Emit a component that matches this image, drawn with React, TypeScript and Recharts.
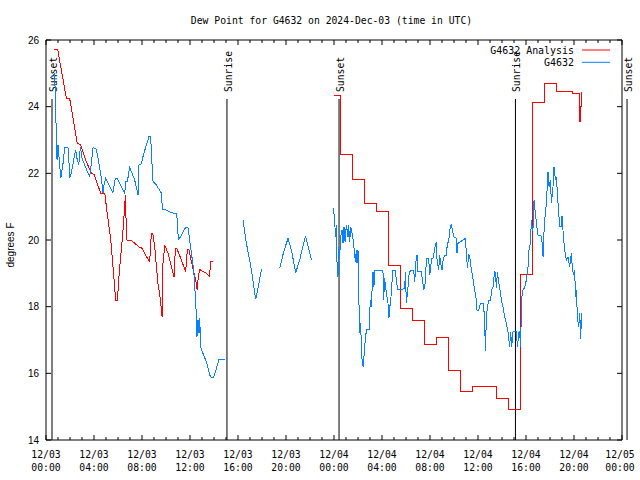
import { LineChart, Line, XAxis, YAxis, ReferenceLine } from 'recharts';

const MONO = '"DejaVu Sans Mono", monospace';
const SANS = '"Liberation Sans", Arial, sans-serif';
const RED = '#ff0000';
const BLUE = '#0a80ff';

// hours since 2024-12-03 00:00 UTC
const hourTicks = Array.from({ length: 49 }, (_, i) => i);
const tempTicks = [14, 16, 18, 20, 22, 24, 26];

const sunHours = [0.5, 15.08, 24.42, 39.12, 48.42];
const sunLabels = ['Sunset', 'Sunrise', 'Sunset', 'Sunrise', 'Sunset'];

// G4632 Analysis, day 1 (smooth part)
const analysisDay1: [number, number][] = [
  [0.64, 25.72], [0.97, 25.72], [1.08, 25.5], [1.7, 24.25], [1.97, 24.25], [2.6, 22.9],
  [2.9, 22.85], [3.3, 22.4], [3.78, 22.0], [4.0, 21.97], [4.56, 21.4], [4.9, 21.4],
  [5.1, 20.8], [5.4, 20.0], [5.72, 18.6], [5.8, 18.2], [5.95, 18.2], [6.1, 19.0],
  [6.4, 20.2], [6.62, 21.35], [6.7, 20.2], [6.75, 20.0], [7.06, 20.0], [7.4, 19.9],
  [7.8, 19.78], [8.03, 19.75], [8.2, 19.6], [8.64, 19.35], [8.78, 20.2], [8.9, 20.2],
  [9.06, 19.8], [9.2, 19.2], [9.33, 18.7], [9.47, 18.4], [9.62, 17.9], [9.67, 17.7],
  [9.75, 19.3], [9.9, 19.84], [10.17, 19.6], [10.45, 19.2], [10.67, 18.9], [10.78, 19.75],
  [10.9, 19.75], [11.28, 19.4], [11.64, 19.05], [11.78, 19.72], [11.9, 19.72], [12.03, 19.5],
  [12.33, 19.0], [12.47, 18.8], [12.6, 18.5], [12.67, 18.8], [12.8, 19.12], [13.08, 19.05],
  [13.36, 19.0], [13.64, 18.9], [13.7, 19.35], [13.92, 19.35],
];

// G4632 Analysis, day 2 (hourly steps)
const analysisDay2: [number, number][] = [
  [24.0, 24.35], [24.5, 23.45], [24.55, 22.58], [25.5, 22.2], [25.55, 21.83], [26.5, 21.1],
  [27.5, 21.0], [27.55, 20.87], [28.5, 20.1], [28.55, 19.25], [29.5, 17.95], [30.5, 17.6],
  [31.5, 17.25], [31.55, 16.88], [32.5, 17.08], [33.5, 16.58], [33.55, 16.08], [34.5, 15.45],
  [35.5, 15.62], [37.5, 15.25], [38.5, 14.92], [39.5, 17.45], [39.55, 18.98], [40.5, 24.13],
  [41.5, 24.7], [42.5, 24.47], [43.9, 24.4], [44.45, 23.55], [44.5, 24.0], [44.6, 24.45],
];

// G4632 station obs, in pieces (gaps between)
const stationSeg1: [number, number][] = [
  [0.3, 24.85], [0.73, 25.0], [0.78, 24.1], [0.87, 23.1], [0.92, 22.4], [1.0, 22.85],
  [1.05, 22.65], [1.23, 21.85], [1.42, 22.3], [1.56, 22.78], [1.83, 22.78], [1.92, 22.3],
  [1.97, 21.85], [2.1, 22.0], [2.39, 22.55], [2.47, 22.7], [2.58, 22.45], [2.73, 22.25],
  [2.87, 22.8], [3.0, 22.45], [3.22, 22.25], [3.5, 22.0], [3.64, 21.9], [3.78, 22.32],
  [3.92, 22.78], [4.2, 22.72], [4.39, 22.35], [4.62, 21.85], [4.75, 21.4], [4.8, 21.6],
  [4.98, 21.85], [5.17, 21.7], [5.58, 21.42], [5.78, 21.85], [5.95, 21.85], [6.28, 21.6],
  [6.56, 21.4], [6.64, 21.75], [6.78, 21.75], [6.97, 22.18], [7.39, 21.8], [7.67, 21.35],
  [7.75, 22.25], [7.95, 22.28], [8.08, 22.5], [8.36, 22.85], [8.58, 23.1], [8.72, 23.1],
  [8.83, 22.3], [8.92, 21.75], [9.2, 21.65], [9.62, 21.4], [9.7, 20.92], [10.03, 20.9],
  [10.45, 20.82], [10.9, 20.78], [10.99, 20.2], [11.08, 20.02], [11.36, 20.2], [11.64, 20.38],
  [11.83, 20.38], [11.97, 20.0], [12.12, 19.6], [12.31, 19.1], [12.45, 18.3], [12.53, 17.7],
  [12.58, 17.1], [12.67, 17.6], [12.75, 17.2], [12.81, 17.65], [12.89, 16.8], [13.08, 16.6],
  [13.36, 16.35], [13.64, 15.95], [13.78, 15.88], [13.97, 15.88], [14.2, 16.15], [14.42, 16.42],
  [14.89, 16.42],
];
const stationSeg2: [number, number][] = [
  [16.42, 20.6], [16.7, 19.9], [17.12, 19.1], [17.47, 18.22], [17.75, 18.7], [17.95, 19.12],
];
const stationSeg3: [number, number][] = [
  [19.47, 19.15], [19.81, 19.65], [20.17, 20.05], [20.45, 19.7], [20.81, 19.02], [21.14, 19.4],
  [21.62, 20.12], [21.92, 19.7], [22.12, 19.4],
];
const stationSeg4: [number, number][] = [
  [23.97, 20.95], [24.06, 20.5], [24.14, 20.1], [24.2, 20.45], [24.25, 19.35], [24.33, 18.9],
  [24.39, 19.8], [24.47, 19.5], [24.56, 20.1], [24.67, 20.3], [24.75, 19.9], [24.83, 20.4],
  [24.92, 19.95], [25.03, 20.45], [25.17, 20.1], [25.22, 20.45], [25.31, 19.95], [25.39, 20.4],
  [25.5, 20.2], [25.58, 20.05], [25.72, 19.6], [25.78, 19.35], [25.86, 19.7], [25.92, 19.3],
  [26.0, 19.7], [26.06, 18.4], [26.14, 17.2], [26.22, 17.5], [26.28, 16.8], [26.33, 16.45],
  [26.42, 16.2], [26.5, 16.5], [26.56, 16.8], [26.64, 17.15], [26.75, 17.32], [26.92, 17.32],
  [26.98, 17.9], [27.06, 18.2], [27.12, 18.0], [27.17, 18.5], [27.25, 19.05], [27.33, 18.6],
  [27.39, 19.08], [28.08, 19.08], [28.14, 18.2], [28.22, 18.85], [28.37, 18.4], [28.5, 18.1],
  [28.58, 17.65], [28.64, 18.0], [28.72, 18.1], [28.78, 18.5], [28.92, 19.1], [29.12, 19.08],
  [29.2, 18.75], [29.33, 18.5], [29.89, 18.54], [29.95, 19.05], [30.03, 18.1], [30.17, 18.6],
  [30.25, 18.95], [30.37, 19.1], [30.64, 19.1], [30.73, 18.75], [30.81, 19.3], [30.92, 19.55],
  [31.0, 19.05], [31.28, 19.05], [31.48, 18.52], [31.56, 18.55], [31.64, 18.98], [31.7, 19.45],
  [31.89, 19.45], [31.98, 18.95], [32.06, 19.2], [32.14, 19.45], [32.25, 19.45], [32.45, 19.85],
  [32.53, 19.95], [32.58, 19.45], [32.72, 19.1], [32.81, 19.55], [32.89, 19.3], [33.0, 19.1],
  [33.08, 19.35], [33.22, 19.55], [33.36, 19.55], [33.45, 19.9], [33.56, 19.95], [33.64, 20.3],
  [33.78, 20.48], [33.87, 20.3], [33.98, 20.1], [34.2, 20.05], [34.25, 19.6], [34.33, 19.9],
  [34.95, 20.05], [35.03, 19.6], [35.12, 19.15], [35.22, 19.55], [35.31, 19.5], [35.45, 19.1],
  [35.58, 18.85], [35.72, 18.5], [35.87, 18.2], [35.92, 17.9], [36.06, 17.9], [36.2, 18.1],
  [36.47, 18.1], [36.56, 17.4], [36.62, 16.68], [36.7, 17.7], [36.78, 17.95], [36.89, 18.2],
  [37.06, 18.2], [37.12, 18.5], [37.25, 18.58], [37.39, 19.08], [37.48, 18.9], [37.53, 18.55],
  [37.62, 19.05], [37.7, 18.8], [37.81, 18.55], [37.95, 18.2], [38.08, 18.0], [38.22, 17.72],
  [38.36, 17.5], [38.5, 17.25], [38.64, 16.8], [38.72, 17.25], [38.81, 16.8], [38.92, 17.25],
  [39.2, 17.25], [39.28, 16.8], [39.42, 17.25], [39.48, 17.25], [39.53, 16.8], [39.62, 17.8],
  [39.67, 18.35], [39.75, 18.5], [39.89, 18.58], [40.03, 18.8], [40.17, 19.2], [40.25, 19.7],
  [40.37, 19.9], [40.45, 20.6], [40.53, 20.3], [40.58, 20.3], [40.67, 21.2], [40.78, 20.8],
  [40.87, 20.5], [41.0, 20.15], [41.22, 20.15], [41.31, 20.05], [41.42, 19.5], [41.48, 20.1],
  [41.56, 20.6], [41.7, 21.1], [41.78, 21.7], [41.83, 22.05], [41.92, 21.6], [42.03, 21.8],
  [42.12, 21.1], [42.25, 21.6], [42.33, 22.2], [42.45, 21.8], [42.53, 21.9], [42.67, 21.1],
  [42.81, 20.4], [42.95, 20.4], [43.0, 20.72], [43.12, 20.1], [43.22, 19.7], [43.36, 19.4],
  [43.5, 19.5], [43.64, 19.2], [43.78, 19.62], [43.87, 19.1], [43.98, 18.95], [44.06, 19.1],
  [44.12, 18.3], [44.2, 18.5], [44.28, 17.7], [44.39, 17.4], [44.48, 17.8], [44.56, 17.02],
  [44.62, 17.8],
];

type Row = { h: number; v: number | null };

const toRows = (pts: [number, number][]): Row[] => pts.map(([h, v]) => ({ h, v }));

// put a null between pieces so the line breaks
function joinSegments(segs: [number, number][][]): Row[] {
  const out: Row[] = [];
  segs.forEach((seg, i) => {
    if (i > 0) out.push({ h: seg[0][0] - 0.01, v: null });
    out.push(...toRows(seg));
  });
  return out;
}

const analysisRows1 = toRows(analysisDay1);
const analysisRows2 = toRows(analysisDay2);
const stationRows = joinSegments([stationSeg1, stationSeg2, stationSeg3, stationSeg4]);

const pad2 = (n: number) => String(n).padStart(2, '0');

function BottomTick({ x, y, payload }: any) {
  const h = payload.value as number;
  const major = h % 4 === 0;
  const day = `12/${pad2(3 + Math.floor(h / 24))}`;
  const time = `${pad2(h % 24)}:00`;
  // last label would hang off the right edge, nudge it in a bit
  const tx = h === 48 ? x - 2 : x;
  return (
    <g>
      <line x1={x} x2={x} y1={y} y2={y - (major ? 5 : 3)} stroke="#000" />
      {major && (
        <g fontFamily={MONO} fontSize={11} fill="#000" textAnchor="middle">
          <text x={tx} y={y + 17.5} textLength={29.3} lengthAdjust="spacingAndGlyphs">{day}</text>
          <text x={tx} y={y + 30.7} textLength={29.3} lengthAdjust="spacingAndGlyphs">{time}</text>
        </g>
      )}
    </g>
  );
}

function TopTick({ x, y, payload }: any) {
  const major = (payload.value as number) % 4 === 0;
  return <line x1={x} x2={x} y1={y} y2={y + (major ? 5 : 3)} stroke="#000" />;
}

function LeftTick({ x, y, payload }: any) {
  return (
    <g>
      <line x1={x} x2={x + 5} y1={y} y2={y} stroke="#000" />
      <text x={x - 7} y={y + 3.6} textAnchor="end" fontFamily={SANS} fontSize={10} fill="#000">
        {payload.value}
      </text>
    </g>
  );
}

function RightTick({ x, y }: any) {
  return <line x1={x - 5} x2={x} y1={y} y2={y} stroke="#000" />;
}

const monoText = (s: string, perChar: number) => ({
  textLength: s.length * perChar,
  lengthAdjust: 'spacingAndGlyphs' as const,
});

function sunMark(text: string) {
  return (props: any) => {
    const vb = props.viewBox ?? {};
    const x = vb.x;
    const top = vb.y;
    const bottom = vb.y + vb.height;
    return (
      <g>
        <line x1={x} x2={x} y1={top + 59} y2={bottom} stroke="#000" />
        <text
          transform={`translate(${x + 5},${top + 52}) rotate(-90)`}
          fontFamily={MONO}
          fontSize={11}
          fill="#000"
          {...monoText(text, 5.86)}
        >
          {text}
        </text>
      </g>
    );
  };
}

// title + legend, hung off the top axis label
function renderHeader() {
  const title = 'Dew Point for G4632 on 2024-Dec-03 (time in UTC)';
  const items = [
    { name: 'G4632 Analysis', color: RED, y: 50 },
    { name: 'G4632', color: BLUE, y: 62.3 },
  ];
  return (
    <g fontFamily={MONO} fontSize={11} fill="#000">
      <text x={331.5} y={23.5} textAnchor="middle" {...monoText(title, 5.86)}>
        {title}
      </text>
      {items.map((it) => (
        <g key={it.name}>
          <text x={574} y={it.y + 4} textAnchor="end" {...monoText(it.name, 5.98)}>
            {it.name}
          </text>
          <line x1={582} x2={610} y1={it.y} y2={it.y} stroke={it.color} />
        </g>
      ))}
    </g>
  );
}

function renderYLabel(props: any) {
  const vb = props.viewBox ?? { x: 0, y: 40, height: 400 };
  const cx = vb.x + 13.5;
  const cy = vb.y + vb.height / 2 + 5;
  return (
    <text
      transform={`translate(${cx},${cy}) rotate(-90)`}
      textAnchor="middle"
      fontFamily={SANS}
      fontSize={10}
      fill="#000"
    >
      degrees F
    </text>
  );
}

export default function App() {
  return (
    <div style={{ position: 'absolute', left: 0, top: 0, background: '#fff' }}>
      <style>{`.recharts-line-curve{shape-rendering:crispEdges}`}</style>
      <LineChart width={640} height={480} margin={{ top: 39, right: 0, bottom: 0, left: 0 }}>
        <XAxis
          dataKey="h"
          type="number"
          domain={[0, 48]}
          ticks={hourTicks}
          interval={0}
          allowDataOverflow
          height={40}
          tickSize={0}
          tickMargin={0}
          tickLine={false}
          axisLine={{ stroke: '#000' }}
          tick={<BottomTick />}
        />
        <XAxis
          xAxisId="top"
          orientation="top"
          dataKey="h"
          type="number"
          domain={[0, 48]}
          ticks={hourTicks}
          interval={0}
          allowDataOverflow
          height={1}
          tickSize={0}
          tickMargin={0}
          tickLine={false}
          axisLine={{ stroke: '#000' }}
          tick={<TopTick />}
          label={renderHeader}
        />
        <YAxis
          type="number"
          domain={[14, 26]}
          ticks={tempTicks}
          interval={0}
          allowDataOverflow
          width={46}
          tickSize={0}
          tickMargin={0}
          tickLine={false}
          axisLine={{ stroke: '#000' }}
          tick={<LeftTick />}
          label={renderYLabel}
        />
        <YAxis
          yAxisId="right"
          orientation="right"
          type="number"
          domain={[14, 26]}
          ticks={tempTicks}
          interval={0}
          allowDataOverflow
          width={18}
          tickSize={0}
          tickMargin={0}
          tickLine={false}
          axisLine={{ stroke: '#000' }}
          tick={<RightTick />}
        />
        {sunHours.map((h, i) => (
          <ReferenceLine
            key={i}
            x={h}
            stroke="none"
            ifOverflow="visible"
            label={sunMark(sunLabels[i])}
          />
        ))}
        <Line
          data={analysisRows1}
          dataKey="v"
          type="linear"
          stroke={RED}
          strokeWidth={1}
          dot={false}
          isAnimationActive={false}
        />
        <Line
          data={analysisRows2}
          dataKey="v"
          type="stepAfter"
          stroke={RED}
          strokeWidth={1}
          dot={false}
          isAnimationActive={false}
        />
        <Line
          data={stationRows}
          dataKey="v"
          type="linear"
          stroke={BLUE}
          strokeWidth={1}
          dot={false}
          connectNulls={false}
          isAnimationActive={false}
        />
      </LineChart>
    </div>
  );
}
